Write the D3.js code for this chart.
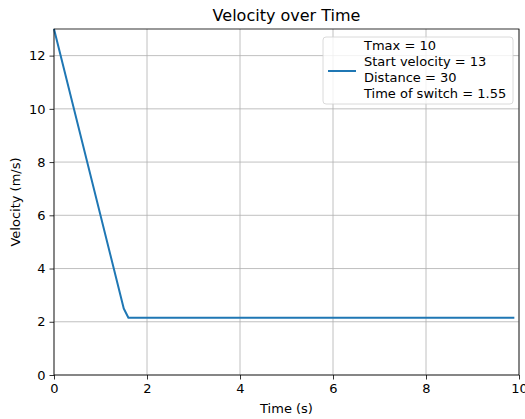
<!DOCTYPE html>
<html>
<head>
<meta charset="utf-8">
<script src="https://cdn.jsdelivr.net/npm/d3@7.9.0/dist/d3.min.js"></script>
<style>
  body { margin: 0; background: #fff; }
  svg { font-family: "DejaVu Sans", sans-serif; }
</style>
</head>
<body>
<svg id="chart" width="525" height="419"></svg>
<script>
// velocity profile
const times = [0, 1.5, 1.6, 9.9];
const velocities = [13, 2.5, 2.15, 2.15];
const xTicks = [0, 2, 4, 6, 8, 10];
const yTicks = [0, 2, 4, 6, 8, 10, 12];
const legendLines = ["Tmax = 10", "Start velocity = 13", "Distance = 30", "Time of switch = 1.55"];

const data = times.map((t, i) => ({ t, v: velocities[i] }));

const svg = d3.select("#chart");
const margin = { top: 29, right: 6, bottom: 44, left: 54 };
const width = +svg.attr("width") - margin.left - margin.right;
const height = +svg.attr("height") - margin.top - margin.bottom;
const g = svg.append("g").attr("transform", `translate(${margin.left},${margin.top})`);

const x = d3.scaleLinear().domain([0, 10]).range([0, width]);
const y = d3.scaleLinear().domain([0, 13]).range([height, 0]);

// grid
g.append("g").selectAll("line").data(xTicks).enter().append("line")
  .attr("x1", d => x(d)).attr("x2", d => x(d))
  .attr("y1", 0).attr("y2", height)
  .attr("stroke", "#b0b0b0").attr("stroke-width", 0.8);
g.append("g").selectAll("line").data(yTicks).enter().append("line")
  .attr("x1", 0).attr("x2", width)
  .attr("y1", d => y(d)).attr("y2", d => y(d))
  .attr("stroke", "#b0b0b0").attr("stroke-width", 0.8);

const line = d3.line().x(d => x(d.t)).y(d => y(d.v));
g.append("path").datum(data)
  .attr("fill", "none")
  .attr("stroke", "#1f77b4")
  .attr("stroke-width", 2)
  .attr("stroke-linejoin", "round")
  .attr("d", line);

// axes
const xAxis = g.append("g").attr("transform", `translate(0,${height})`)
  .call(d3.axisBottom(x).tickValues(xTicks).tickSize(4.5).tickPadding(4).tickFormat(d3.format("d")));
const yAxis = g.append("g")
  .call(d3.axisLeft(y).tickValues(yTicks).tickSize(4.5).tickPadding(4).tickFormat(d3.format("d")));
[xAxis, yAxis].forEach(a => {
  a.select(".domain").remove();
  a.selectAll("text").attr("font-size", "13px").attr("fill", "#000").attr("font-family", "DejaVu Sans");
  a.selectAll("line").attr("stroke", "#000").attr("stroke-width", 0.8);
});

// frame
g.append("rect").attr("width", width).attr("height", height)
  .attr("fill", "none").attr("stroke", "#000").attr("stroke-width", 0.8);

// labels
svg.append("text").attr("x", margin.left + width / 2).attr("y", 21)
  .attr("text-anchor", "middle").attr("font-size", "16px").text("Velocity over Time");
svg.append("text").attr("x", margin.left + width / 2).attr("y", 413)
  .attr("text-anchor", "middle").attr("font-size", "13px").text("Time (s)");
svg.append("text").attr("transform", `translate(20,${margin.top + height / 2}) rotate(-90)`)
  .attr("text-anchor", "middle").attr("font-size", "13px").text("Velocity (m/s)");

// legend
const lg = svg.append("g").attr("transform", "translate(323,37)");
lg.append("rect").attr("width", 190).attr("height", 67).attr("rx", 3)
  .attr("fill", "#fff").attr("fill-opacity", 0.8)
  .attr("stroke", "#d0d0d0").attr("stroke-width", 0.8);
lg.append("line").attr("x1", 5).attr("x2", 33).attr("y1", 34).attr("y2", 34)
  .attr("stroke", "#1f77b4").attr("stroke-width", 2);
lg.append("g").selectAll("text").data(legendLines).enter().append("text")
  .attr("x", 41).attr("y", (d, i) => 13 + i * 16)
  .attr("font-size", "13px").text(d => d);
</script>
</body>
</html>
